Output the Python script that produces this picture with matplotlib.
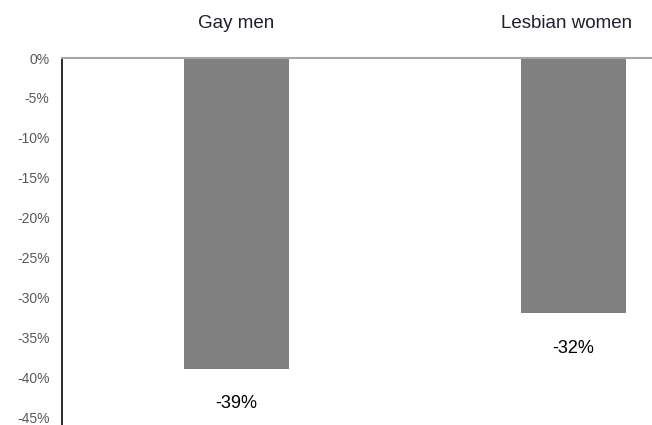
import matplotlib
matplotlib.use("Agg")
import matplotlib.pyplot as plt
import numpy as np

categories = ["Gay men", "Lesbian women"]
values = [-39, -32]
yticks = [0, -5, -10, -15, -20, -25, -30, -35, -40, -45]
ytick_labels = ["0%", "-5%", "-10%", "-15%", "-20%", "-25%", "-30%", "-35%", "-40%", "-45%"]
value_labels = ["-39%", "-32%"]

plt.rcParams['font.family'] = ['Liberation Sans', 'DejaVu Sans']

fig = plt.figure(figsize=(6.52, 4.25), dpi=100)
ax = fig.add_axes([62/652, 0.0, 1 - 62/652, (425-58)/425])

x = np.arange(len(categories))
ax.bar(x, values, width=0.31, color="#808080", zorder=2)

ax.set_xlim(-0.518, 1.233)
ax.set_ylim(-46, 0)
ax.set_yticks(yticks)
ax.set_yticklabels(ytick_labels, fontsize=10, color="#595959")
ax.tick_params(axis='y', length=0, pad=9)
ax.set_xticks([])

for s in ['right', 'bottom']:
    ax.spines[s].set_visible(False)
ax.spines['top'].set_color("#a6a6a6")
ax.spines['top'].set_linewidth(1.5)
ax.spines['left'].set_color("#1a1a1a")
ax.spines['left'].set_linewidth(1.3)

offsets = [0, -5]
for xi, cat, off in zip(x, categories, offsets):
    ax.annotate(cat, xy=(xi, 0), xycoords='data', xytext=(off, 25), textcoords='offset points',
                ha='center', va='center', fontsize=13.5, color="#1f1f2e")

for xi, v, lab in zip(x, values, value_labels):
    ax.annotate(lab, xy=(xi, v), xycoords='data', xytext=(0, -25), textcoords='offset points',
                ha='center', va='center', fontsize=13, color="#000000")

fig.savefig("out.png", dpi=100)
